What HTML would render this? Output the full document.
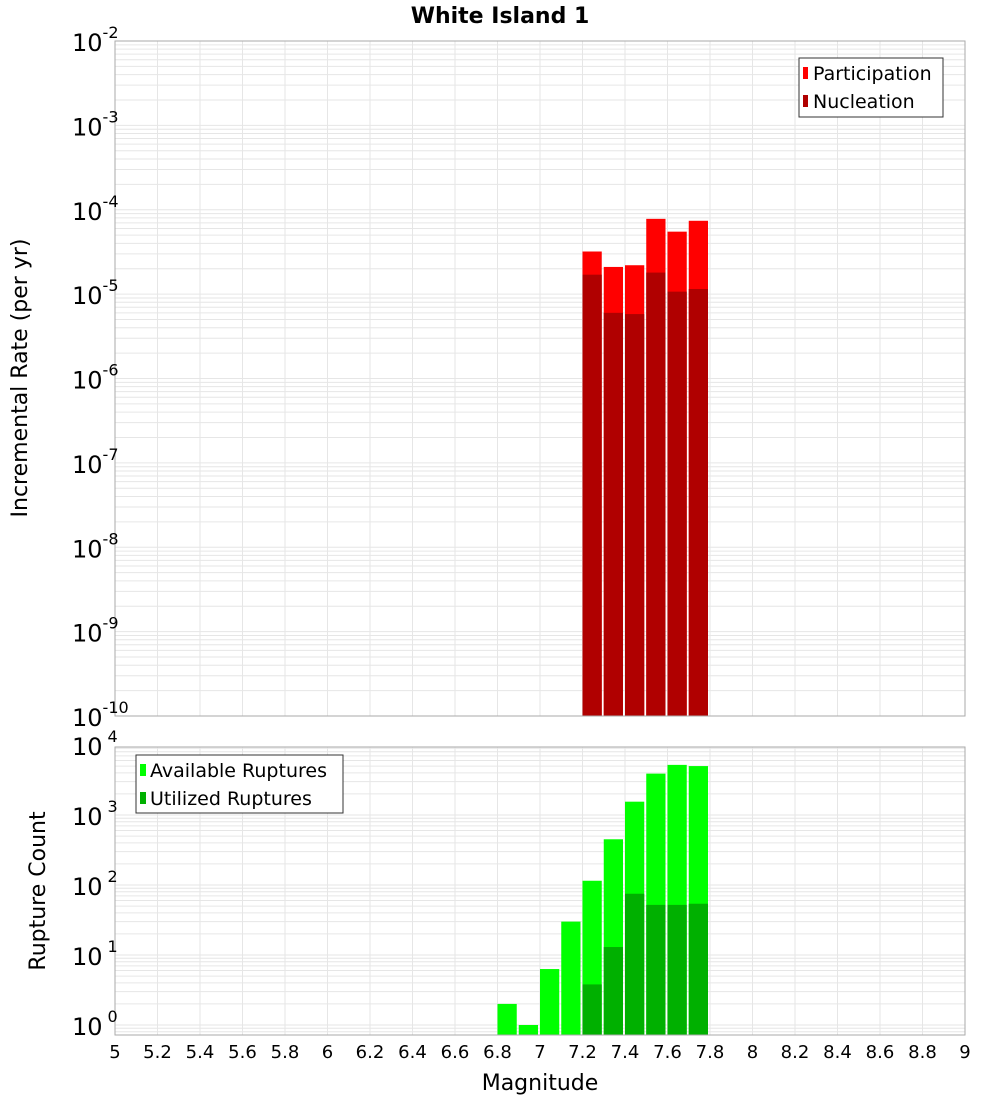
<!DOCTYPE html>
<html><head><meta charset="utf-8"><style>
body{margin:0;background:#fff}
svg{display:block;font-family:"DejaVu Sans","Liberation Sans",sans-serif}
</style></head><body>
<svg id="chart" width="1000" height="1100" xmlns="http://www.w3.org/2000/svg">
<text x="500" y="23" text-anchor="middle" font-size="22" font-weight="bold">White Island 1</text>
<g id="gtop"></g>
<g id="gbot"></g>
<text transform="translate(27,378) rotate(-90)" text-anchor="middle" font-size="22">Incremental Rate (per yr)</text>
<text transform="translate(45,891) rotate(-90)" text-anchor="middle" font-size="22">Rupture Count</text>
<text x="540" y="1090" text-anchor="middle" font-size="22">Magnitude</text>
<g>
<rect x="799" y="58" width="144" height="59" fill="#fff" stroke="#333"/>
<rect x="803" y="67" width="5" height="12" fill="#ff0000"/>
<text x="813" y="80" font-size="19">Participation</text>
<rect x="803" y="95" width="5" height="12" fill="#b00000"/>
<text x="813" y="108" font-size="19">Nucleation</text>
</g>
<g>
<rect x="136" y="755" width="207" height="58" fill="#fff" stroke="#333"/>
<rect x="140" y="764" width="6" height="12" fill="#00ff00"/>
<text x="150" y="777" font-size="19">Available Ruptures</text>
<rect x="140" y="792" width="6" height="12" fill="#00b000"/>
<text x="150" y="805" font-size="19">Utilized Ruptures</text>
</g>
</svg>
<script>
const mags=[6.8,6.9,7.0,7.1,7.2,7.3,7.4,7.5,7.6,7.7];
const available=[2,1,6.3,30,115,450,1550,3900,5200,5000];
const utilized=[0,0,0,0,3.8,13,75,52,52,54];
const rateMags=[7.2,7.3,7.4,7.5,7.6,7.7];
const participation=[3.2e-5,2.1e-5,2.2e-5,7.8e-5,5.5e-5,7.4e-5];
const nucleation=[1.7e-5,6e-6,5.8e-6,1.8e-5,1.07e-5,1.15e-5];
const xTicks=[5,5.2,5.4,5.6,5.8,6,6.2,6.4,6.6,6.8,7,7.2,7.4,7.6,7.8,8,8.2,8.4,8.6,8.8,9];
const topExps=[-2,-3,-4,-5,-6,-7,-8,-9,-10];
const botExps=[4,3,2,1,0];
const NS="http://www.w3.org/2000/svg";
const X0=115,X1=965;
const xs=m=>X0+(m-5)/4*(X1-X0);
const yT=v=>41+(-2-Math.log10(v))*84.375;
const yB=v=>745+(4-Math.log10(v))*70;
function mk(t,a,p){const e=document.createElementNS(NS,t);for(const k in a)e.setAttribute(k,a[k]);p.appendChild(e);return e;}
const gTop=document.getElementById('gtop'),gBot=document.getElementById('gbot');
function grid(g,y0,y1,yf,lo,hi){
  for(let d=lo;d<hi;d++)for(let k=1;k<10;k++){const y=yf(k*Math.pow(10,d));if(y>=y0&&y<=y1){
    const l=mk('line',{x1:X0,x2:X1,y1:y,y2:y,stroke:'#e6e6e6','stroke-width':1},g);
    
    }}
  xTicks.forEach(m=>{const l=mk('line',{x1:xs(m),x2:xs(m),y1:y0,y2:y1,stroke:'#e6e6e6'},g);
    
    });
}
grid(gTop,41,716,yT,-10,-1);
grid(gBot,747,1035,yB,-1,5);
function bar(g,m,v,base,yf,col,name){const x=xs(m),w=xs(m+0.1)-x-2,y=yf(v);
  const r=mk('rect',{x:x,y:y,width:w,height:base-y,fill:col},g);
  
  }
rateMags.forEach((m,i)=>{bar(gTop,m,participation[i],716,yT,'#ff0000','participation-bar');bar(gTop,m,nucleation[i],716,yT,'#b00000','nucleation-bar');});
mags.forEach((m,i)=>{bar(gBot,m,available[i],1035,yB,'#00ff00','available-bar');if(utilized[i]>0)bar(gBot,m,utilized[i],1035,yB,'#00b000','utilized-bar');});
const f1=mk('rect',{x:X0,y:41,width:X1-X0,height:675,fill:'none',stroke:'#aaa'},gTop);


const f2=mk('rect',{x:X0,y:747,width:X1-X0,height:288,fill:'none',stroke:'#aaa'},gBot);


topExps.forEach(e=>{const y=yT(Math.pow(10,e));
  const t=mk('text',{x:72,y:y+10,'font-size':24},gTop);t.textContent='10';
  
  
  const s=mk('tspan',{dy:-13,'font-size':16},t);s.textContent=String(e);});
botExps.forEach(e=>{const y=yB(Math.pow(10,e));
  const t=mk('text',{x:72,y:y+10,'font-size':24},gBot);t.textContent='10';
  
  
  const s=mk('tspan',{dx:5,dy:-13,'font-size':16},t);s.textContent=String(e);});
xTicks.forEach(m=>{const t=mk('text',{x:xs(m),y:1058,'text-anchor':'middle','font-size':18},gBot);
  t.textContent=String(m);
  
  });
</script>
</body></html>
